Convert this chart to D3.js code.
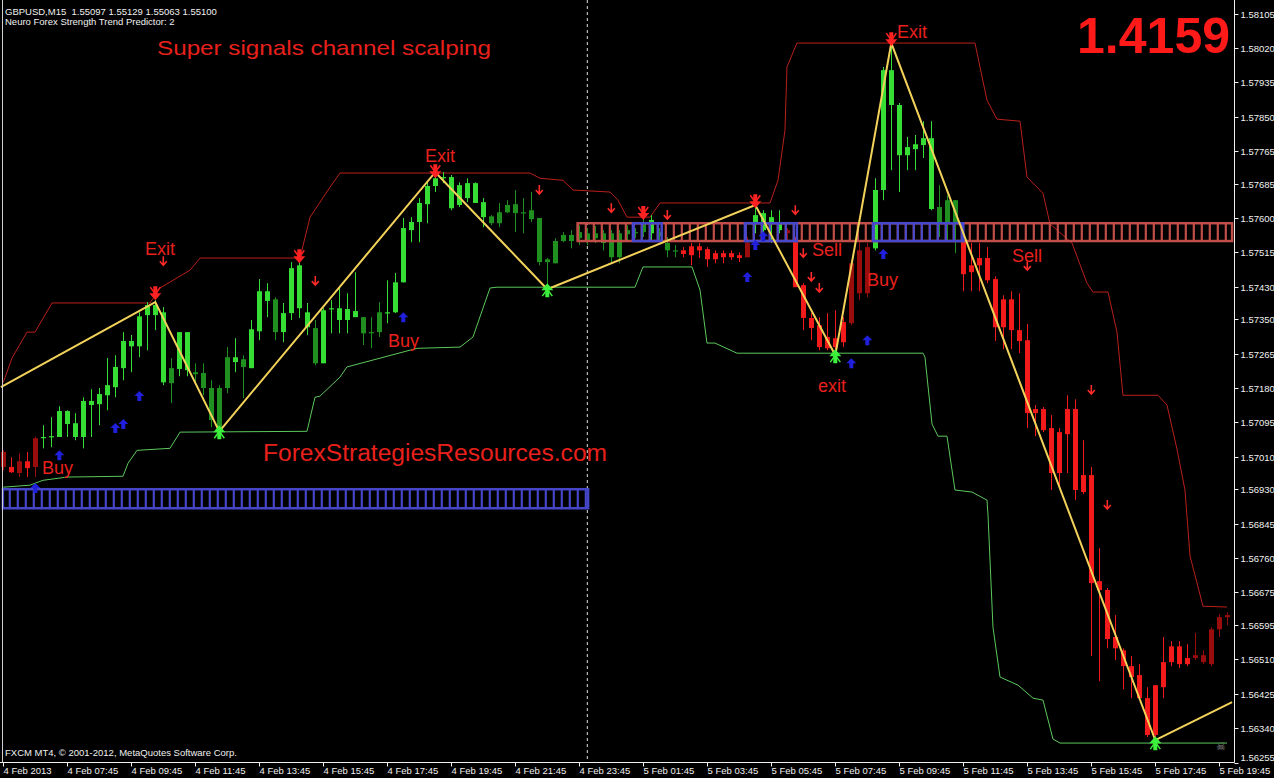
<!DOCTYPE html>
<html><head><meta charset="utf-8">
<script src="https://cdn.jsdelivr.net/npm/d3@7"></script>
<style>html,body{margin:0;padding:0;background:#000;overflow:hidden}</style>
</head><body><svg id="c" width="1274" height="778"></svg>
<script>
// ---------- DATA ----------
// OHLC of GBPUSD M15 bars, 4 Feb 05:45 .. 5 Feb 20:00
const ohlc = [
[1.57022,1.57026,1.56977,1.56985],[1.56985,1.57009,1.56970,1.56972],[1.56999,1.57019,1.56960,1.56970],[1.56999,1.57022,1.56960,1.56982],
[1.56985,1.57059,1.56960,1.57056],[1.57056,1.57088,1.57031,1.57059],[1.57059,1.57108,1.57034,1.57061],[1.57059,1.57135,1.57059,1.57123],
[1.57123,1.57125,1.57059,1.57091],[1.57059,1.57118,1.57051,1.57093],[1.57059,1.57157,1.57031,1.57148],[1.57138,1.57177,1.57059,1.57148],
[1.57140,1.57180,1.57088,1.57165],[1.57162,1.57254,1.57125,1.57187],[1.57182,1.57261,1.57157,1.57232],[1.57229,1.57318,1.57199,1.57296],
[1.57283,1.57311,1.57219,1.57296],[1.57283,1.57367,1.57256,1.57357],[1.57360,1.57392,1.57273,1.57385],[1.57360,1.57397,1.57323,1.57385],
[1.57367,1.57380,1.57187,1.57194],[1.57192,1.57254,1.57143,1.57229],[1.57227,1.57318,1.57209,1.57318],[1.57318,1.57318,1.57209,1.57224],
[1.57219,1.57241,1.57192,1.57214],[1.57217,1.57241,1.57162,1.57180],[1.57180,1.57199,1.57083,1.57101],[1.57083,1.57187,1.57076,1.57180],
[1.57180,1.57281,1.57167,1.57256],[1.57244,1.57303,1.57219,1.57256],[1.57251,1.57261,1.57155,1.57232],[1.57229,1.57348,1.57229,1.57325],
[1.57320,1.57449,1.57298,1.57419],[1.57395,1.57439,1.57355,1.57419],[1.57399,1.57404,1.57298,1.57318],[1.57318,1.57390,1.57293,1.57365],
[1.57365,1.57491,1.57348,1.57476],[1.57483,1.57501,1.57353,1.57377],[1.57367,1.57390,1.57311,1.57330],[1.57328,1.57348,1.57236,1.57241],
[1.57241,1.57377,1.57241,1.57372],[1.57375,1.57397,1.57315,1.57377],[1.57348,1.57427,1.57315,1.57377],[1.57348,1.57414,1.57315,1.57375],
[1.57355,1.57466,1.57355,1.57370],[1.57355,1.57355,1.57286,1.57315],[1.57318,1.57355,1.57278,1.57315],[1.57318,1.57392,1.57306,1.57367],
[1.57365,1.57446,1.57340,1.57367],[1.57367,1.57464,1.57365,1.57441],[1.57441,1.57600,1.57441,1.57575],[1.57570,1.57602,1.57540,1.57590],
[1.57590,1.57649,1.57540,1.57637],[1.57634,1.57688,1.57587,1.57679],[1.57679,1.57711,1.57664,1.57698],[1.57698,1.57713,1.57686,1.57701],
[1.57701,1.57706,1.57619,1.57624],[1.57632,1.57688,1.57627,1.57681],[1.57649,1.57698,1.57639,1.57686],[1.57686,1.57688,1.57637,1.57637],
[1.57639,1.57649,1.57577,1.57602],[1.57604,1.57607,1.57582,1.57587],[1.57587,1.57637,1.57577,1.57614],[1.57614,1.57644,1.57612,1.57632],
[1.57612,1.57669,1.57565,1.57634],[1.57614,1.57649,1.57562,1.57612],[1.57597,1.57664,1.57590,1.57619],[1.57600,1.57600,1.57483,1.57491],
[1.57491,1.57501,1.57429,1.57498],[1.57488,1.57550,1.57488,1.57543],[1.57543,1.57565,1.57540,1.57558],[1.57543,1.57570,1.57525,1.57558],
[1.57550,1.57582,1.57533,1.57565],[1.57562,1.57575,1.57533,1.57545],[1.57550,1.57580,1.57538,1.57562],[1.57562,1.57570,1.57520,1.57538],
[1.57562,1.57570,1.57488,1.57503],[1.57503,1.57570,1.57488,1.57562],[1.57570,1.57582,1.57545,1.57560],[1.57565,1.57575,1.57550,1.57562],
[1.57565,1.57600,1.57553,1.57587],[1.57562,1.57607,1.57545,1.57595],[1.57565,1.57575,1.57545,1.57555],[1.57538,1.57553,1.57503,1.57520],
[1.57520,1.57533,1.57503,1.57518],[1.57520,1.57528,1.57503,1.57511],[1.57530,1.57538,1.57483,1.57508],[1.57530,1.57538,1.57501,1.57520],
[1.57523,1.57528,1.57479,1.57498],[1.57513,1.57520,1.57488,1.57498],[1.57513,1.57520,1.57488,1.57503],[1.57513,1.57520,1.57496,1.57503],
[1.57508,1.57515,1.57491,1.57501],[1.57538,1.57553,1.57503,1.57503],[1.57590,1.57632,1.57562,1.57607],[1.57570,1.57619,1.57562,1.57612],
[1.57587,1.57619,1.57538,1.57602],[1.57590,1.57619,1.57562,1.57570],[1.57570,1.57575,1.57545,1.57562],[1.57540,1.57553,1.57429,1.57429],
[1.57434,1.57439,1.57323,1.57353],[1.57353,1.57365,1.57298,1.57328],[1.57335,1.57355,1.57273,1.57281],[1.57306,1.57365,1.57273,1.57278],
[1.57303,1.57372,1.57266,1.57281],[1.57293,1.57355,1.57281,1.57343],[1.57340,1.57496,1.57335,1.57488],[1.57414,1.57540,1.57397,1.57520],
[1.57528,1.57538,1.57404,1.57414],[1.57525,1.57698,1.57520,1.57669],[1.57669,1.57973,1.57644,1.57965],[1.57965,1.58032,1.57718,1.57879],
[1.57879,1.57884,1.57664,1.57755],[1.57755,1.57800,1.57718,1.57775],[1.57770,1.57805,1.57718,1.57782],[1.57780,1.57839,1.57748,1.57797],
[1.57797,1.57839,1.57619,1.57622],[1.57627,1.57681,1.57553,1.57585],[1.57585,1.57656,1.57543,1.57644],[1.57644,1.57644,1.57513,1.57585],
[1.57543,1.57543,1.57419,1.57461],[1.57466,1.57538,1.57419,1.57483],[1.57483,1.57538,1.57419,1.57501],[1.57501,1.57528,1.57439,1.57446],
[1.57449,1.57456,1.57296,1.57330],[1.57330,1.57409,1.57276,1.57399],[1.57399,1.57419,1.57276,1.57323],[1.57323,1.57414,1.57266,1.57296],
[1.57298,1.57338,1.57081,1.57118],[1.57128,1.57138,1.57061,1.57118],[1.57128,1.57133,1.57071,1.57076],[1.57081,1.57113,1.56928,1.56970],
[1.57071,1.57081,1.56938,1.56970],[1.57066,1.57162,1.56970,1.57128],[1.57128,1.57152,1.56903,1.56928],[1.56965,1.57051,1.56918,1.56923],
[1.56965,1.56985,1.56518,1.56698],[1.56703,1.56784,1.56456,1.56681],[1.56681,1.56686,1.56537,1.56560],[1.56565,1.56619,1.56508,1.56537],
[1.56532,1.56537,1.56436,1.56493],[1.56493,1.56518,1.56414,1.56466],[1.56471,1.56498,1.56409,1.56414],[1.56414,1.56441,1.56318,1.56323],
[1.56323,1.56446,1.56313,1.56446],[1.56441,1.56565,1.56414,1.56503],[1.56503,1.56555,1.56493,1.56542],[1.56542,1.56555,1.56488,1.56498],
[1.56498,1.56547,1.56493,1.56513],[1.56513,1.56575,1.56508,1.56520],[1.56520,1.56532,1.56498,1.56503],[1.56498,1.56589,1.56493,1.56584],
[1.56584,1.56621,1.56565,1.56614],[1.56614,1.56626,1.56594,1.56619]
];
// Strength-state runs: G strong up, g weak up, R strong down, D weak down
const trendRuns = [["D",1],["R",1],["D",1],["R",1],["D",1],["G",16],["g",1],["G",2],["g",5],["G",1],["g",1],["G",3],["g",1],["G",4],["g",1],["G",5],["g",3],["G",13],["g",20],["G",1],["g",3],["R",8],["D",1],["G",4],["D",1],["R",7],["D",3],["G",8],["g",3],["R",29],["D",5]];

// Channel bands: [bar index, price]
const upperBand = [[0,1.57194],[1.09,1.57254],[2.96,1.57318],[3.96,1.57318],[6.09,1.57390],[18.34,1.57390],[19.59,1.57427],[23.34,1.57471],[24.59,1.57501],[37.09,1.57501],[38.34,1.57602],[40.84,1.57676],[42.09,1.57711],[65.84,1.57711],[67.09,1.57698],[69.96,1.57693],[71.21,1.57669],[75.84,1.57664],[76.84,1.57644],[77.96,1.57602],[80.84,1.57602],[82.09,1.57637],[95.84,1.57637],[96.84,1.57693],[97.71,1.57817],[97.96,1.57973],[99.21,1.58032],[121.46,1.58032],[122.96,1.57891],[124.21,1.57844],[127.09,1.57839],[127.96,1.57701],[129.96,1.57661],[130.84,1.57585],[133.59,1.57538],[135.46,1.57439],[136.21,1.57417],[138.09,1.57417],[139.21,1.57318],[139.96,1.57162],[144.34,1.57162],[145.46,1.57138],[146.71,1.57029],[147.71,1.56928],[148.34,1.56765],[149.96,1.56641],[152.96,1.56639]];
const lowerBand = [[0,1.56935],[3.34,1.56940],[4.96,1.56952],[7.96,1.56960],[14.96,1.56962],[15.59,1.56994],[16.71,1.57026],[20.84,1.57031],[22.09,1.57071],[37.96,1.57073],[38.96,1.57157],[39.59,1.57160],[42.09,1.57207],[42.96,1.57232],[51.71,1.57278],[57.09,1.57281],[58.71,1.57306],[60.84,1.57427],[61.71,1.57429],[78.96,1.57429],[79.96,1.57479],[86.09,1.57479],[87.09,1.57422],[87.96,1.57291],[88.96,1.57291],[91.71,1.57266],[114.96,1.57266],[115.21,1.57256],[116.09,1.57091],[116.84,1.57061],[117.96,1.57061],[118.96,1.56928],[121.09,1.56923],[122.96,1.56903],[123.09,1.56866],[123.71,1.56589],[124.59,1.56466],[126.84,1.56446],[128.71,1.56414],[129.96,1.56409],[131.21,1.56313],[132.09,1.56303],[152.96,1.56303]];

// ZigZag swing points
const zigzag = [[-0.3,1.57182],[19,1.57392],[27,1.57073],[54,1.57713],[68,1.57424],[94,1.57632],[104,1.57261],[111,1.58032],[144,1.56310],[153.6,1.56404]];

// Signal arrows: [bar index, price]
const exitDownArrows = [[19,1.57397],[37,1.57488],[54,1.57698],[80,1.57595],[94,1.57624],[111,1.58024]];
const exitUpArrows = [[27,1.57088],[68,1.57439],[104,1.57276],[144,1.56320]];
const sellArrows = [[20,1.57493],[39,1.57444],[67,1.57669],[76,1.57624],[83,1.57607],[99,1.57619],[100,1.57513],[101,1.57454],[102,1.57427],[128,1.57481],[136,1.57175],[138,1.56891]];
const buyArrows = [[4,1.56933],[7,1.57014],[14,1.57081],[15,1.57091],[17,1.57160],[50,1.57355],[93,1.57454],[94,1.57533],[95,1.57555],[106,1.57241],[108,1.57298],[110,1.57511]];

// Strength zones
const demandZone = {from:-0.05, to:73.1, hi:1.56930, lo:1.56883};
const supplyZone = {from:71.8, to:153.6, hi:1.57587, lo:1.57543};
const supplyFlips = [[78.7,82.3],[92.7,99.2],[108.7,120]];

// Annotations: [text, bar index, price]
const notes = [["Exit",17.71,1.57508],["Exit",52.71,1.57738],["Exit",111.71,1.58044],["Buy",4.84,1.56967],["Buy",48.09,1.57281],["Buy",107.96,1.57432],["Sell",101.09,1.57506],["Sell",126.09,1.57491],["exit",101.84,1.57170]];

const priceLabels = ["1.58105","1.58020","1.57935","1.57850","1.57765","1.57685","1.57600","1.57515","1.57430","1.57350","1.57265","1.57180","1.57095","1.57010","1.56930","1.56845","1.56760","1.56675","1.56595","1.56510","1.56425","1.56340","1.56255"];
const timeLabels = ["4 Feb 2013","4 Feb 07:45","4 Feb 09:45","4 Feb 11:45","4 Feb 13:45","4 Feb 15:45","4 Feb 17:45","4 Feb 19:45","4 Feb 21:45","4 Feb 23:45","5 Feb 01:45","5 Feb 03:45","5 Feb 05:45","5 Feb 07:45","5 Feb 09:45","5 Feb 11:45","5 Feb 13:45","5 Feb 15:45","5 Feb 17:45","5 Feb 19:45"];
const barsPerLabel = 8;
const daySeparatorBar = 73;

// ---------- DRAW ----------
const svg = d3.select("#c");
svg.append("rect").attr("width",1274).attr("height",778).attr("fill","#000");
const x = d3.scaleLinear().domain([0,152]).range([3.3,3.3+8*152]);
const y = d3.scaleLinear().domain([1.56255,1.58105]).range([762.5,13.5]);
const plotRight = 1234.5, plotBottom = 762.5;

const trend = [];
trendRuns.forEach(([c,n])=>{for(let k=0;k<n;k++) trend.push(c);});
const colorOf = {G:"#35dd35", g:"#1f8f1f", R:"#f21a1a", D:"#9a0d0d"};

// day separator
svg.append("line").attr("x1",x(daySeparatorBar)).attr("x2",x(daySeparatorBar)).attr("y1",0).attr("y2",plotBottom)
  .attr("stroke","#e0e0e0").attr("stroke-width",1).attr("stroke-dasharray","3,3");

// channel bands
const bandLine = d3.line().x(d=>x(d[0])).y(d=>y(d[1]));
svg.append("path").attr("d",bandLine(upperBand)).attr("fill","none").attr("stroke","#b8201c").attr("stroke-width",1);
svg.append("path").attr("d",bandLine(lowerBand)).attr("fill","none").attr("stroke","#5cc85c").attr("stroke-width",1);

// candles
const cg = svg.append("g");
ohlc.forEach((d,i)=>{
  const [o,h,l,c] = d; const col = colorOf[trend[i]];
  const cx = Math.round(x(i))+0.5;
  cg.append("line").attr("x1",cx).attr("x2",cx).attr("y1",y(h)).attr("y2",y(l)).attr("stroke",col).attr("stroke-width",1);
  const top = y(Math.max(o,c)), bot = y(Math.min(o,c));
  cg.append("rect").attr("x",cx-2.5).attr("y",top).attr("width",5).attr("height",Math.max(1.2,bot-top)).attr("fill",col);
});

// zones
function zone(z, from, to, color){
  const g = svg.append("g");
  const y0 = y(z.hi), y1 = y(z.lo);
  for(let i=Math.ceil(from); i<=to; i++){
    const xi = x(i)-1.5;
    if (xi < x(from) || xi > x(to)) continue;
    g.append("line").attr("x1",xi).attr("x2",xi).attr("y1",y0).attr("y2",y1).attr("stroke",color).attr("stroke-width",2.2);
  }
  g.append("rect").attr("x",x(from)).attr("y",y0).attr("width",x(to)-x(from)).attr("height",y1-y0)
    .attr("fill","none").attr("stroke",color).attr("stroke-width",2.5);
}
zone(demandZone, demandZone.from, demandZone.to, "#4545c8");
zone(supplyZone, supplyZone.from, supplyZone.to, "#c24e4a");
supplyFlips.forEach(([a,b])=>zone(supplyZone, a, b, "#4848cc"));

// zigzag
svg.append("path").attr("d",bandLine(zigzag)).attr("fill","none").attr("stroke","#f3d25a").attr("stroke-width",2);

// arrows
const ag = svg.append("g");
exitDownArrows.forEach(([i,p])=>{
  ag.append("path").attr("transform",`translate(${x(i)},${y(p)})`)
    .attr("d","M0,0 L-6,-7 L-2,-7 L-2,-14 L2,-14 L2,-7 L6,-7 Z").attr("fill","#ff2222");
  ag.append("path").attr("transform",`translate(${x(i)},${y(p)})`)
    .attr("d","M-5,-13 L0,-6 M5,-13 L0,-6").attr("stroke","#ff2222").attr("stroke-width",1.5);
});
exitUpArrows.forEach(([i,p])=>{
  ag.append("path").attr("transform",`translate(${x(i)},${y(p)})`)
    .attr("d","M0,0 L-6,7 L-2,7 L-2,14 L2,14 L2,7 L6,7 Z").attr("fill","#3cf03c");
  ag.append("path").attr("transform",`translate(${x(i)},${y(p)})`)
    .attr("d","M-5,13 L0,6 M5,13 L0,6").attr("stroke","#3cf03c").attr("stroke-width",1.5);
});
sellArrows.forEach(([i,p])=>{
  ag.append("path").attr("transform",`translate(${x(i)},${y(p)})`)
    .attr("d","M0,-5 L0,4 M-3.5,0 L0,4 L3.5,0").attr("fill","none").attr("stroke","#ff2a2a").attr("stroke-width",1.6);
});
buyArrows.forEach(([i,p])=>{
  ag.append("path").attr("transform",`translate(${x(i)},${y(p)})`)
    .attr("d","M0,-5 L-5,0 L-2,0 L-2,5 L2,5 L2,0 L5,0 Z").attr("fill","#2020dc");
});

// annotations
const redText = "#e8201c";
notes.forEach(([t,i,p])=>{
  svg.append("text").attr("x",x(i)).attr("y",y(p)).text(t)
    .attr("font-family","Liberation Sans, Arial, sans-serif").attr("font-size",18).attr("fill",redText);
});
svg.append("text").attr("x",157).attr("y",55).text("Super signals channel scalping")
  .attr("font-family","Liberation Sans, Arial, sans-serif").attr("font-size",21).attr("fill",redText)
  .attr("textLength",334).attr("lengthAdjust","spacingAndGlyphs");
svg.append("text").attr("x",263).attr("y",461).text("ForexStrategiesResources.com")
  .attr("font-family","Liberation Sans, Arial, sans-serif").attr("font-size",23).attr("fill",redText)
  .attr("textLength",344).attr("lengthAdjust","spacingAndGlyphs");
svg.append("text").attr("x",1230).attr("y",53).attr("text-anchor","end").text("1.4159")
  .attr("font-family","Liberation Sans, Arial, sans-serif").attr("font-size",50).attr("font-weight","bold").attr("fill","#ff1a1a");

// header / footer text
const ui = {family:"Liberation Sans, Arial, sans-serif", size:9.5, fill:"#f0f0f0"};
function uiText(tx,ty,t,anchor){
  return svg.append("text").attr("x",tx).attr("y",ty).text(t).attr("font-family",ui.family).attr("font-size",ui.size)
    .attr("fill",ui.fill).attr("text-anchor",anchor||"start");
}
uiText(5,14.5,"GBPUSD,M15  1.55097 1.55129 1.55063 1.55100").attr("xml:space","preserve").style("white-space","pre");
uiText(5,25,"Neuro Forex Strength Trend Predictor: 2");
uiText(5,756,"FXCM MT4, © 2001-2012, MetaQuotes Software Corp.");
svg.append("text").attr("x",1221).attr("y",750).attr("text-anchor","middle").text("☠")
  .attr("font-family","DejaVu Sans").attr("font-size",11).attr("fill","#8a8a8a");

// axes frame
svg.append("line").attr("x1",plotRight).attr("x2",plotRight).attr("y1",0).attr("y2",plotBottom).attr("stroke","#f0f0f0");
svg.append("line").attr("x1",0).attr("x2",plotRight).attr("y1",plotBottom).attr("y2",plotBottom).attr("stroke","#f0f0f0");
svg.append("line").attr("x1",2.5).attr("x2",2.5).attr("y1",0).attr("y2",plotBottom).attr("stroke","#d0d0d0");

// price axis
priceLabels.forEach(s=>{
  const yy = Math.round(y(+s))+0.5;
  svg.append("line").attr("x1",plotRight).attr("x2",plotRight+4).attr("y1",yy).attr("y2",yy).attr("stroke","#f0f0f0");
  uiText(plotRight+6, Math.min(yy+3.5, plotBottom-2), s);
});
// time axis
timeLabels.forEach((s,k)=>{
  const xx = Math.round(x(k*barsPerLabel))+0.5;
  svg.append("line").attr("x1",xx).attr("x2",xx).attr("y1",plotBottom).attr("y2",plotBottom+4).attr("stroke","#f0f0f0");
  uiText(xx, 774, s);
});
</script></body></html>
